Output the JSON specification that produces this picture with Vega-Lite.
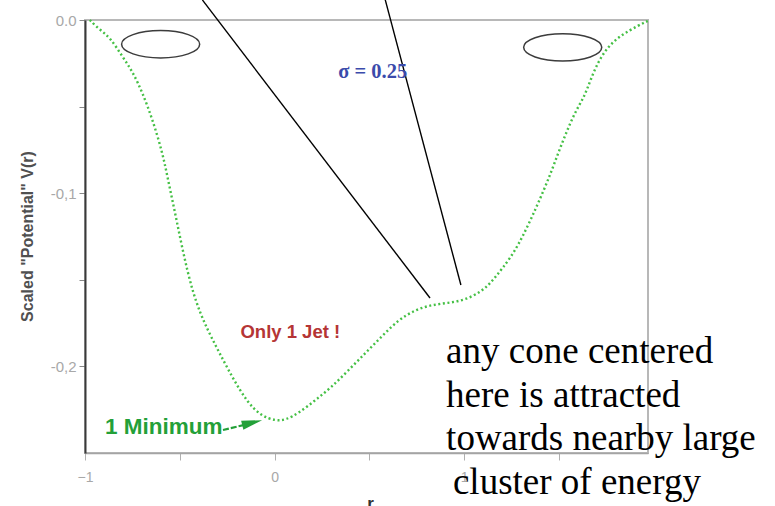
{
  "$schema": "https://vega.github.io/schema/vega-lite/v6.json",
  "autosize": {"type": "none"},
  "padding": {"left": 85, "top": 20, "right": 127, "bottom": 53},
  "width": 563,
  "height": 433,
  "background": "white",
  "config": {
    "view": {"stroke": "#b8b8b8", "strokeWidth": 2},
    "axis": {"grid": false}
  },
  "datasets": {
    "potential": [
      {"r": -0.975, "v": 0.0},
      {"r": -0.921, "v": -0.0058},
      {"r": -0.869, "v": -0.0098},
      {"r": -0.801, "v": -0.0214},
      {"r": -0.748, "v": -0.0300},
      {"r": -0.696, "v": -0.0421},
      {"r": -0.643, "v": -0.0577},
      {"r": -0.591, "v": -0.0768},
      {"r": -0.565, "v": -0.0906},
      {"r": -0.517, "v": -0.1155},
      {"r": -0.460, "v": -0.1461},
      {"r": -0.397, "v": -0.1693},
      {"r": -0.307, "v": -0.1889},
      {"r": -0.224, "v": -0.2061},
      {"r": -0.145, "v": -0.2206},
      {"r": -0.071, "v": -0.2286},
      {"r": 0.007, "v": -0.2315},
      {"r": 0.060, "v": -0.2309},
      {"r": 0.128, "v": -0.2269},
      {"r": 0.217, "v": -0.2194},
      {"r": 0.301, "v": -0.2119},
      {"r": 0.391, "v": -0.2021},
      {"r": 0.480, "v": -0.1922},
      {"r": 0.563, "v": -0.1830},
      {"r": 0.652, "v": -0.1732},
      {"r": 0.741, "v": -0.1674},
      {"r": 0.826, "v": -0.1645},
      {"r": 0.915, "v": -0.1634},
      {"r": 1.004, "v": -0.1617},
      {"r": 1.088, "v": -0.1570},
      {"r": 1.141, "v": -0.1518},
      {"r": 1.203, "v": -0.1432},
      {"r": 1.282, "v": -0.1316},
      {"r": 1.387, "v": -0.1068},
      {"r": 1.450, "v": -0.0906},
      {"r": 1.508, "v": -0.0733},
      {"r": 1.581, "v": -0.0537},
      {"r": 1.634, "v": -0.0445},
      {"r": 1.666, "v": -0.0346},
      {"r": 1.718, "v": -0.0214},
      {"r": 1.791, "v": -0.0115},
      {"r": 1.875, "v": -0.0058},
      {"r": 1.954, "v": -0.0012},
      {"r": 1.970, "v": -0.0006}
    ],
    "cones": [
      {"r": -0.601, "v": -0.0140},
      {"r": 1.520, "v": -0.0158}
    ],
    "leaders": [
      {"r": -0.381, "v": 0.0116, "r2": 0.820, "v2": -0.1605},
      {"r": 0.584, "v": 0.0116, "r2": 0.983, "v2": -0.1530}
    ],
    "sigma": [{"r": 0.518, "v": -0.0300, "label": "σ = 0.25"}],
    "jet": [{"r": 0.083, "v": -0.1801, "label": "Only 1 Jet !"}],
    "minimum": [{"r": -0.895, "v": -0.2350, "label": "1 Minimum"}],
    "minimumShaft": [{"r": -0.272, "v": -0.2367, "r2": -0.150, "v2": -0.2335}],
    "minimumHead": [{"r": -0.118, "v": -0.2325}],
    "callout": [
      {"r": 0.905, "v": -0.1980, "label": "any cone centered"},
      {"r": 0.905, "v": -0.2232, "label": "here is attracted"},
      {"r": 0.905, "v": -0.2483, "label": "towards nearby large"},
      {"r": 0.941, "v": -0.2734, "label": "cluster of energy"}
    ]
  },
  "layer": [
    {
      "data": {"name": "potential"},
      "mark": {
        "type": "line",
        "interpolate": "basis",
        "color": "#45c045",
        "strokeWidth": 2.4,
        "strokeDash": [2, 2.6],
        "strokeCap": "butt"
      },
      "encoding": {
        "x": {
          "field": "r",
          "type": "quantitative",
          "scale": {"domain": [-1, 1.97], "nice": false, "zero": false},
          "axis": {
            "values": [-1, -0.5, 0, 0.5, 1, 1.5],
            "labelExpr": "datum.value % 1 == 0 ? format(datum.value, 'd') : ''",
            "labelOverlap": false,
            "labelFlush": false,
            "domainColor": "#a4a4a4",
            "domainWidth": 1.5,
            "tickColor": "#b0b0b0",
            "tickSize": 7,
            "labelColor": "#a8a8a8",
            "labelFont": "Liberation Sans",
            "labelFontSize": 14,
            "labelPadding": 10,
            "title": "r",
            "titleFont": "Liberation Sans",
            "titleFontSize": 17,
            "titleFontWeight": "bold",
            "titleColor": "#333333",
            "titleX": 285,
            "titleY": 42,
            "titleBaseline": "top",
            "titleAlign": "center"
          }
        },
        "y": {
          "field": "v",
          "type": "quantitative",
          "scale": {"domain": [-0.25, 0], "nice": false, "zero": false},
          "axis": {
            "values": [0, -0.05, -0.1, -0.15, -0.2],
            "labelExpr": "datum.value == 0 ? '0.0' : datum.value == -0.1 ? '-0,1' : datum.value == -0.2 ? '-0,2' : ''",
            "labelOverlap": false,
            "domainColor": "#3a3a3a",
            "domainWidth": 2,
            "tickColor": "#888888",
            "tickSize": 6,
            "labelColor": "#a8a8a8",
            "labelFont": "Liberation Sans",
            "labelFontSize": 15,
            "labelPadding": 3,
            "title": "Scaled \"Potential\" V(r)",
            "titleFont": "Liberation Sans",
            "titleFontSize": 16,
            "titleFontWeight": "bold",
            "titleColor": "#505050",
            "titleAngle": -90,
            "titleX": -58,
            "titleY": 216,
            "titleAlign": "center",
            "titleBaseline": "middle"
          }
        }
      }
    },
    {
      "data": {"name": "cones"},
      "mark": {
        "type": "point",
        "shape": "M-1,0 A1,0.35 0 1,1 1,0 A1,0.35 0 1,1 -1,0 Z",
        "size": 6100,
        "filled": false,
        "stroke": "#3c3c3c",
        "strokeWidth": 1.5,
        "opacity": 1
      },
      "encoding": {
        "x": {"field": "r", "type": "quantitative"},
        "y": {"field": "v", "type": "quantitative"}
      }
    },
    {
      "data": {"name": "leaders"},
      "mark": {"type": "rule", "color": "black", "strokeWidth": 1.4},
      "encoding": {
        "x": {"field": "r", "type": "quantitative"},
        "y": {"field": "v", "type": "quantitative"},
        "x2": {"field": "r2"},
        "y2": {"field": "v2"}
      }
    },
    {
      "data": {"name": "sigma"},
      "mark": {
        "type": "text",
        "font": "Liberation Serif",
        "fontSize": 20.5,
        "fontWeight": "bold",
        "color": "#3b4bab",
        "align": "center",
        "baseline": "middle"
      },
      "encoding": {
        "x": {"field": "r", "type": "quantitative"},
        "y": {"field": "v", "type": "quantitative"},
        "text": {"field": "label"}
      }
    },
    {
      "data": {"name": "jet"},
      "mark": {
        "type": "text",
        "font": "Liberation Sans",
        "fontSize": 18.5,
        "fontWeight": "bold",
        "color": "#b53535",
        "align": "center",
        "baseline": "middle"
      },
      "encoding": {
        "x": {"field": "r", "type": "quantitative"},
        "y": {"field": "v", "type": "quantitative"},
        "text": {"field": "label"}
      }
    },
    {
      "data": {"name": "minimum"},
      "mark": {
        "type": "text",
        "font": "Liberation Sans",
        "fontSize": 22.5,
        "fontWeight": "bold",
        "color": "#23a038",
        "align": "left",
        "baseline": "middle"
      },
      "encoding": {
        "x": {"field": "r", "type": "quantitative"},
        "y": {"field": "v", "type": "quantitative"},
        "text": {"field": "label"}
      }
    },
    {
      "data": {"name": "minimumShaft"},
      "mark": {"type": "rule", "color": "#23a038", "strokeWidth": 2.2, "strokeDash": [6, 2]},
      "encoding": {
        "x": {"field": "r", "type": "quantitative"},
        "y": {"field": "v", "type": "quantitative"},
        "x2": {"field": "r2"},
        "y2": {"field": "v2"}
      }
    },
    {
      "data": {"name": "minimumHead"},
      "mark": {
        "type": "point",
        "shape": "M-1,-0.45 L1,0 L-1,0.45 Z",
        "size": 420,
        "filled": true,
        "color": "#23a038",
        "opacity": 1,
        "angle": -14
      },
      "encoding": {
        "x": {"field": "r", "type": "quantitative"},
        "y": {"field": "v", "type": "quantitative"}
      }
    },
    {
      "data": {"name": "callout"},
      "mark": {
        "type": "text",
        "font": "Liberation Serif",
        "fontSize": 37,
        "color": "black",
        "align": "left",
        "baseline": "alphabetic"
      },
      "encoding": {
        "x": {"field": "r", "type": "quantitative"},
        "y": {"field": "v", "type": "quantitative"},
        "text": {"field": "label"}
      }
    }
  ]
}
